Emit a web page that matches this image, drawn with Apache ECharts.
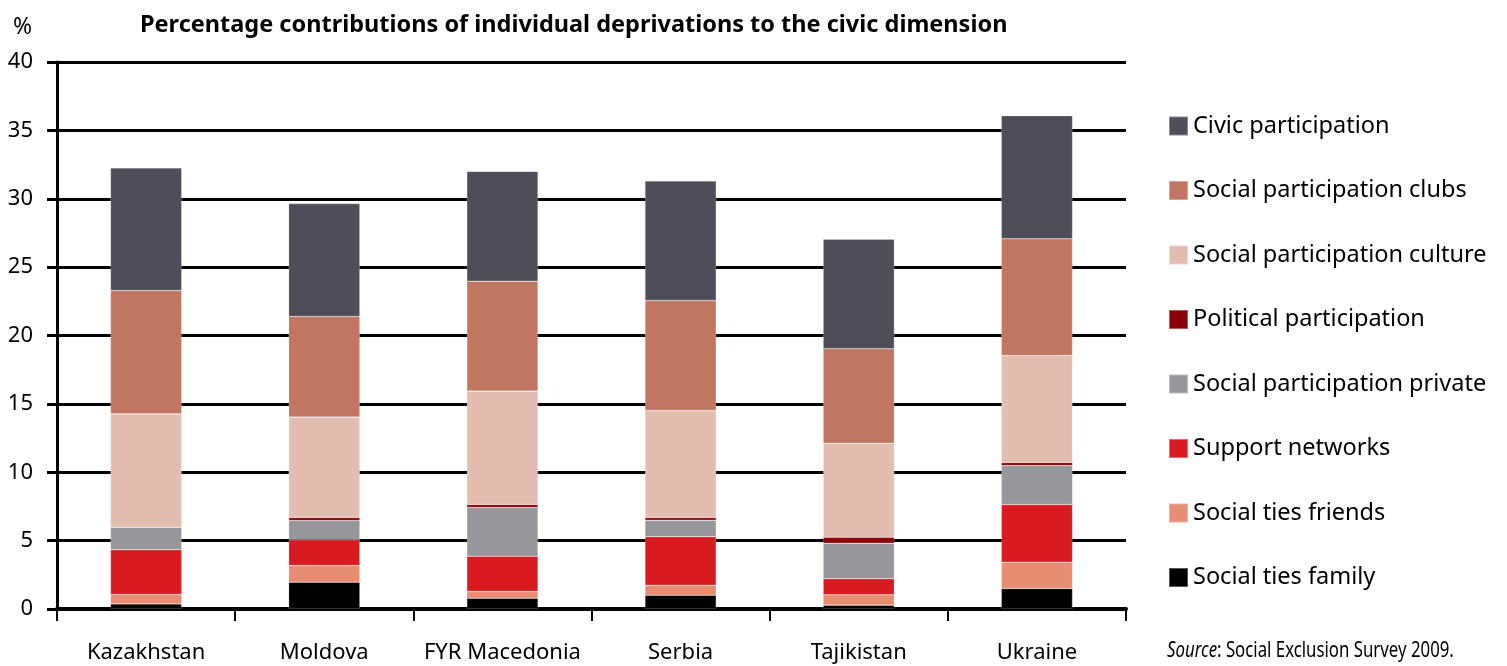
<!DOCTYPE html>
<html>
<head>
<meta charset="utf-8">
<script src="https://cdn.jsdelivr.net/npm/echarts@6/dist/echarts.min.js"></script>
<style>
  html, body { margin: 0; padding: 0; background: #fff; }
  #chart { width: 1507px; height: 666px; }
</style>
</head>
<body>
<div id="chart"></div>
<script>
// categories and values (percent)
var countries = ['Kazakhstan', 'Moldova', 'FYR Macedonia', 'Serbia', 'Tajikistan', 'Ukraine'];
var tiesFamily    = [0.37, 1.96, 0.79, 1.01, 0.28, 1.50];
var tiesFriends   = [0.69, 1.22, 0.49, 0.73, 0.76, 1.92];
var supportNet    = [3.27, 1.88, 2.58, 3.54, 1.17, 4.22];
var partPrivate   = [1.65, 1.41, 3.56, 1.21, 2.60, 2.85];
var political     = [0.00, 0.22, 0.22, 0.20, 0.44, 0.22];
var partCulture   = [8.29, 7.34, 8.29, 7.83, 6.87, 7.83];
var partClubs     = [9.02, 7.36, 8.04, 8.04, 6.91, 8.53];
var civic         = [8.97, 8.26, 8.03, 8.74, 8.01, 9.00];
var yTicks = [0, 5, 10, 15, 20, 25, 30, 35, 40];

var chart = echarts.init(document.getElementById('chart'));

// bottom to top
var layers = [
  { name: 'Social ties family', data: tiesFamily, color: '#000000' },
  { name: 'Social ties friends', data: tiesFriends, color: '#e88c72' },
  { name: 'Support networks', data: supportNet, color: '#d81b21' },
  { name: 'Social participation private', data: partPrivate, color: '#96969b' },
  { name: 'Political participation', data: political, color: '#8b0306' },
  { name: 'Social participation culture', data: partCulture, color: '#e3beb0' },
  { name: 'Social participation clubs', data: partClubs, color: '#c07660' },
  { name: 'Civic participation', data: civic, color: '#4e4e58' }
];

var series = layers.map(function (l) {
  return {
    name: l.name,
    type: 'bar',
    stack: 'all',
    barWidth: '40%',
    data: l.data,
    itemStyle: { color: l.color, borderColor: 'rgba(255,255,255,0.35)', borderWidth: 0.6 },
    emphasis: { disabled: true }
  };
});

var font = 'Noto Sans';

var option = {
  animation: false,
  backgroundColor: '#fff',
  title: {
    text: 'Percentage contributions of individual deprivations to the civic dimension',
    left: 135,
    top: 8,
    textStyle: { fontFamily: font, fontWeight: 'bold', fontSize: 23.5, color: '#000' }
  },
  legend: {
    orient: 'vertical',
    left: 1163,
    top: 109,
    itemWidth: 19,
    itemHeight: 19,
    itemGap: 40.5,
    icon: 'rect',
    data: layers.map(function (l) { return l.name; }).reverse(),
    textStyle: { fontFamily: font, fontSize: 23.5, color: '#000', lineHeight: 19 },
    selectedMode: false
  },
  grid: { left: 57, top: 62, width: 1069, height: 547, containLabel: false },
  xAxis: {
    type: 'category',
    data: countries,
    axisLine: { lineStyle: { color: '#000', width: 4 } },
    axisTick: { show: true, interval: 0, length: 12, lineStyle: { color: '#000', width: 2 } },
    axisLabel: { interval: 0, fontFamily: font, fontSize: 22, color: '#000', margin: 33 }
  },
  yAxis: {
    type: 'value',
    min: 0,
    max: 40,
    interval: 5,
    axisLine: { show: true, lineStyle: { color: '#000', width: 3 } },
    axisTick: { show: true, length: 10, lineStyle: { color: '#000', width: 3 } },
    splitLine: { show: true, lineStyle: { color: '#000', width: 3 } },
    axisLabel: {
      fontFamily: font, fontSize: 22, color: '#000', margin: 24,
      formatter: function (v) { return yTicks.indexOf(v) >= 0 ? String(v) : ''; }
    }
  },
  graphic: [
    {
      type: 'text', left: 13, top: 16,
      style: { text: '%', font: '23px ' + font, fill: '#000' }
    },
    {
      type: 'text', x: 1167, y: 641, scaleX: 0.8,
      style: {
        text: '{i|Source}: Social Exclusion Survey 2009.',
        font: '21px ' + font,
        fill: '#000',
        rich: { i: { fontStyle: 'italic', fontFamily: font, fontSize: 21 } }
      }
    }
  ],
  series: series
};

chart.setOption(option);
</script>
</body>
</html>
